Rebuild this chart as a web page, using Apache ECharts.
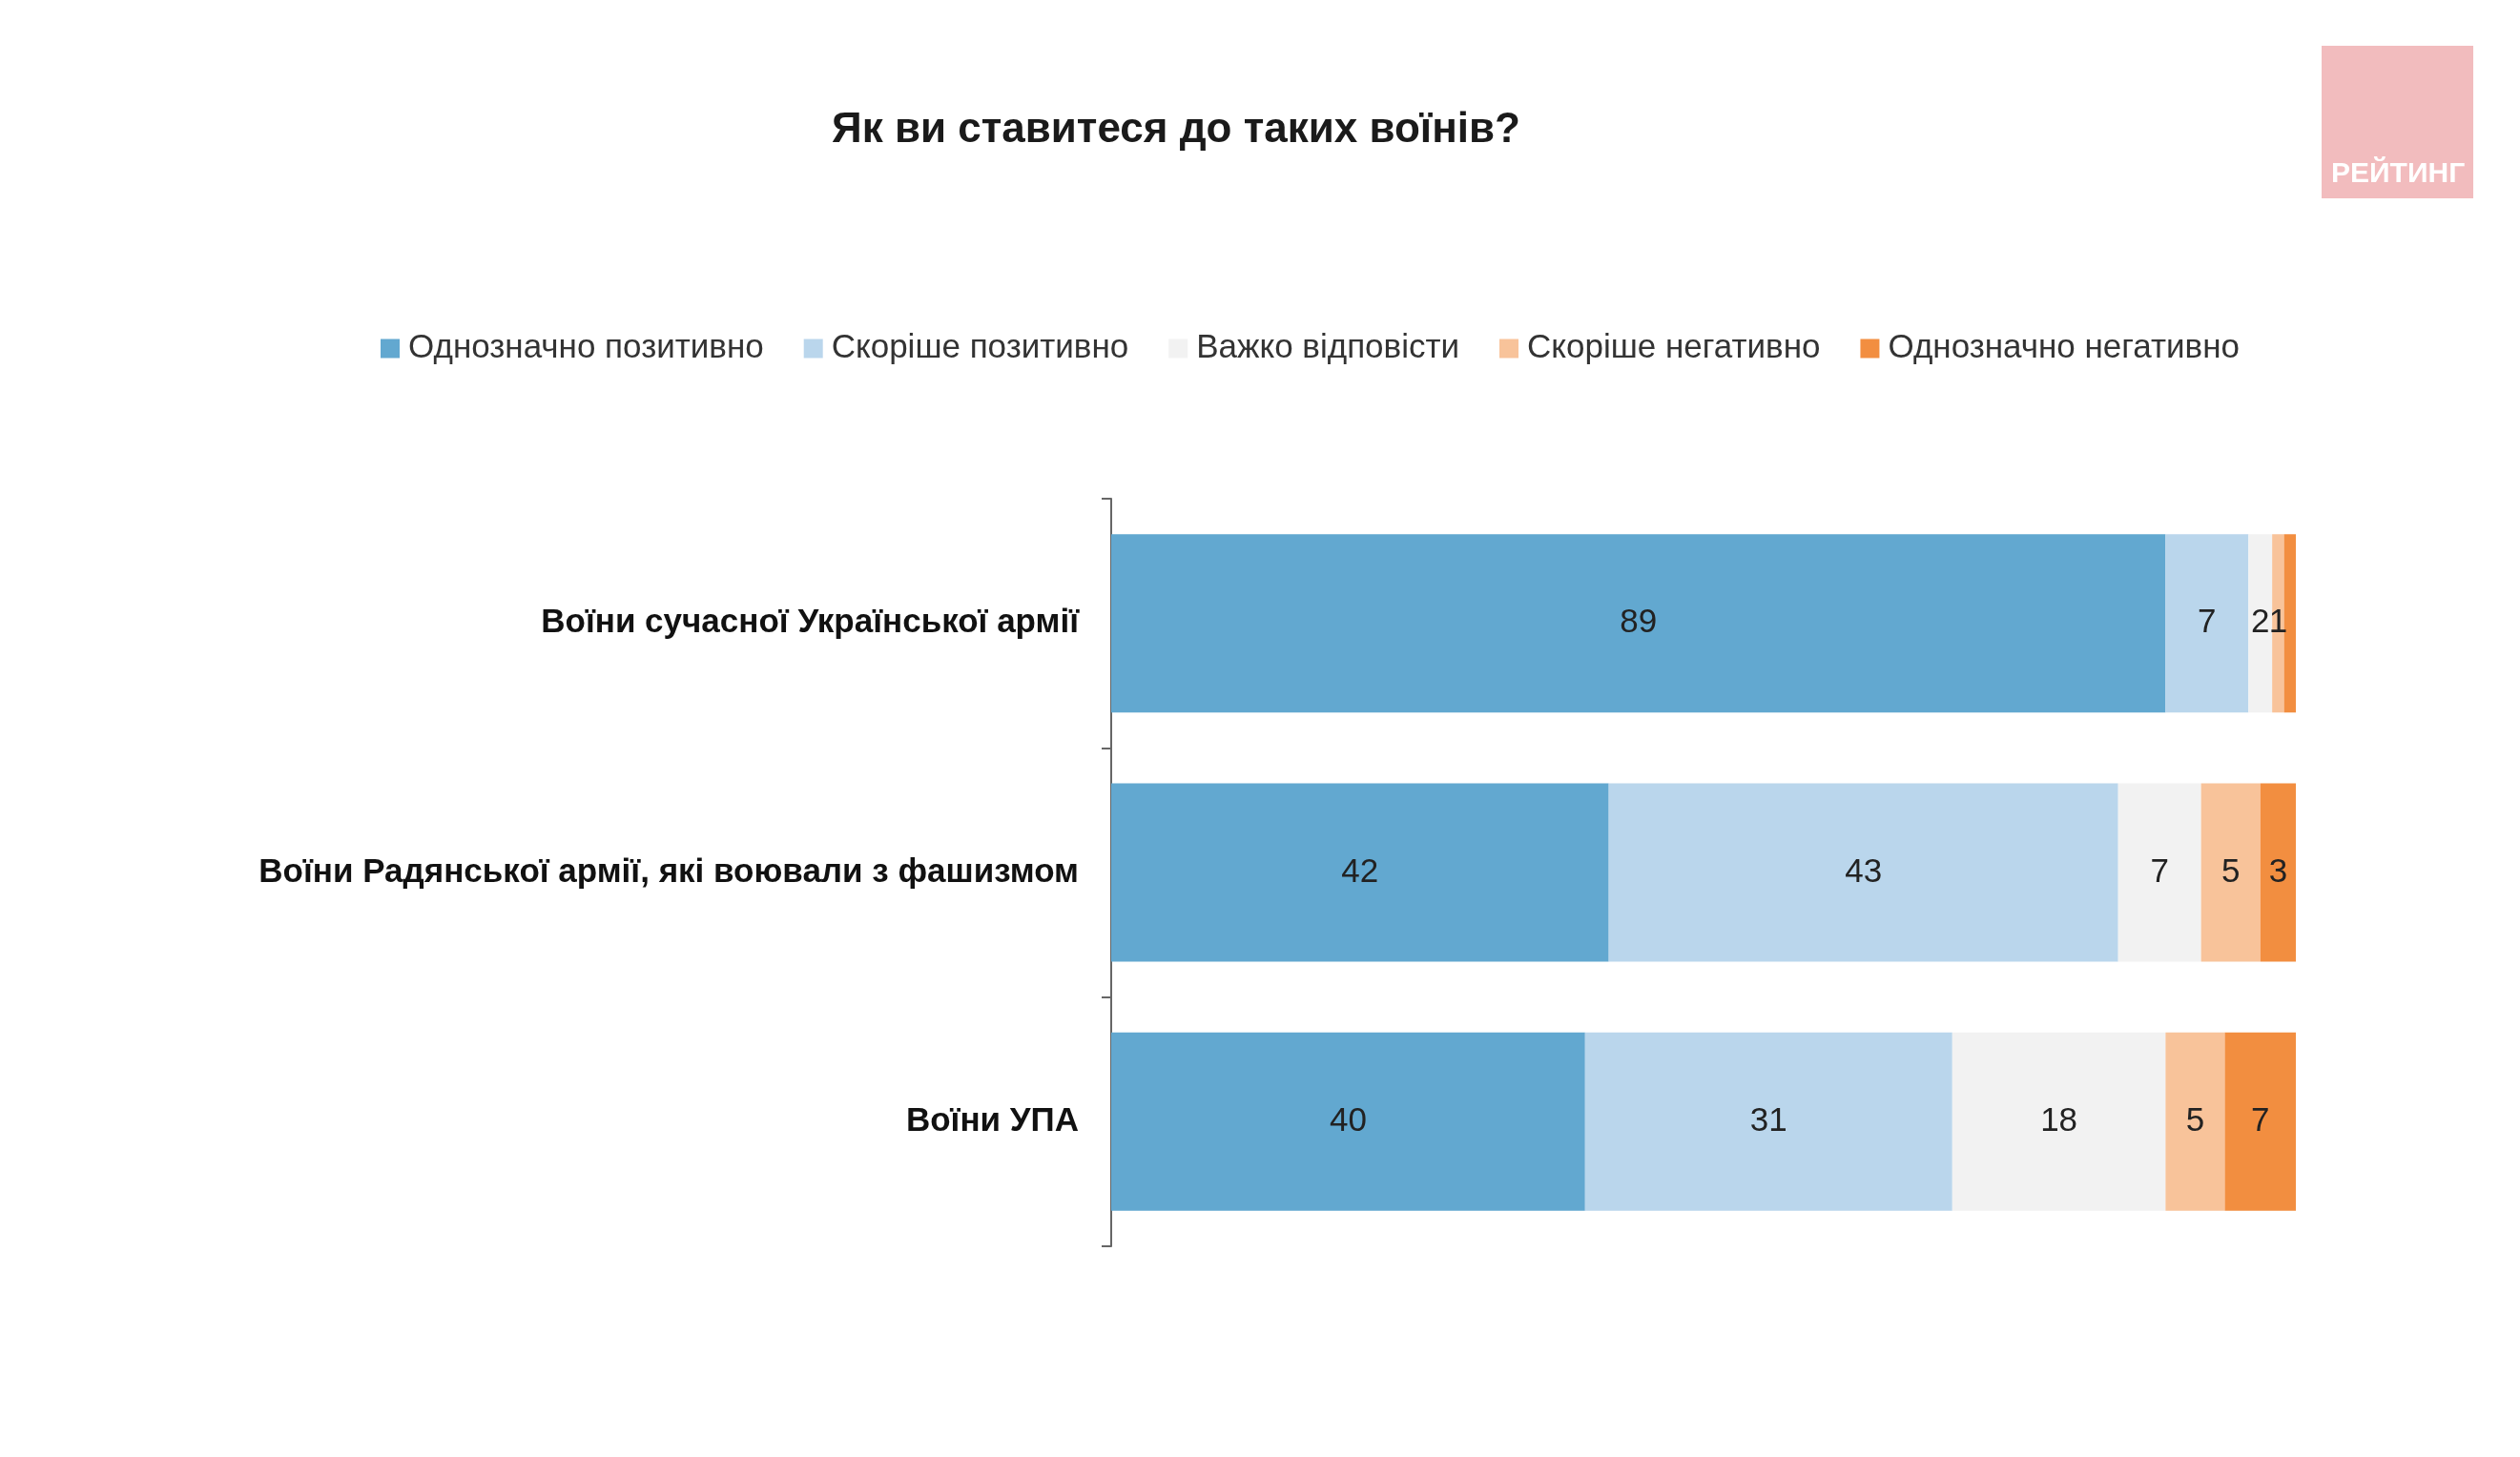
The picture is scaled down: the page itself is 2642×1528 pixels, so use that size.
<!DOCTYPE html>
<html><head><meta charset="utf-8">
<script src="https://cdn.jsdelivr.net/npm/echarts@6/dist/echarts.min.js"></script>
<style>html,body{margin:0;padding:0;background:#fff}#c{width:2642px;height:1528px}</style>
</head><body><div id="c"></div>
<script>
const categories = ['Воїни сучасної Української армії', 'Воїни Радянської армії, які воювали з фашизмом', 'Воїни УПА'];
const seriesNames = ['Однозначно позитивно', 'Скоріше позитивно', 'Важко відповісти', 'Скоріше негативно', 'Однозначно негативно'];
const s1 = [89, 42, 40];
const s2 = [7, 43, 31];
const s3 = [2, 7, 18];
const s4 = [1, 5, 5];
const s5 = [1, 3, 7];
const colors = ['#62A8D0', '#BAD6EC', '#F2F2F2', '#F8C39A', '#F28E40'];
const font = '"Liberation Sans Narrow", "Liberation Sans", Arial, sans-serif';
const data = [s1, s2, s3, s4, s5];
const chart = echarts.init(document.getElementById('c'));
chart.setOption({
  animation: false,
  color: colors,
  title: { text: 'Як ви ставитеся до таких воїнів?', left: 1228, top: 110, textAlign: 'center',
    textStyle: { fontFamily: font, fontSize: 44, fontWeight: 'bold', color: '#1a1a1a' } },
  legend: { top: 343, left: 394, itemWidth: 20, itemHeight: 20, itemGap: 42,
    textStyle: { fontFamily: font, fontSize: 35, color: '#333', padding: [0, 0, 0, 4] },
    icon: 'rect', data: seriesNames },
  grid: { left: 1165, right: 235, top: 523, bottom: 221 },
  xAxis: { type: 'value', min: 0, max: 100, show: false },
  yAxis: { type: 'category', data: categories, inverse: true,
    axisLine: { show: true, lineStyle: { color: '#666', width: 2 } },
    axisTick: { show: true, length: 10, alignWithLabel: false, interval: 0, lineStyle: { color: '#666', width: 2 } },
    axisLabel: { fontFamily: font, fontSize: 35, fontWeight: 'bold', color: '#111', margin: 34 } },
  graphic: [
    { type: 'rect', left: 2434, top: 48, shape: { width: 159, height: 160 }, style: { fill: '#F2BCBE' } },
    { type: 'text', left: 2444, top: 168, style: { text: 'РЕЙТИНГ', fill: '#fff', font: 'bold 30px "Liberation Sans", Arial, sans-serif' } }
  ],
  series: data.map((d, i) => ({
    name: seriesNames[i], type: 'bar', stack: 'a', data: d, barWidth: 187,
    label: { show: true, position: 'inside', fontFamily: font, fontSize: 35, color: '#222',
      formatter: p => (i === 4 && p.dataIndex === 0) ? '' : p.value }
  }))
});
</script></body></html>
